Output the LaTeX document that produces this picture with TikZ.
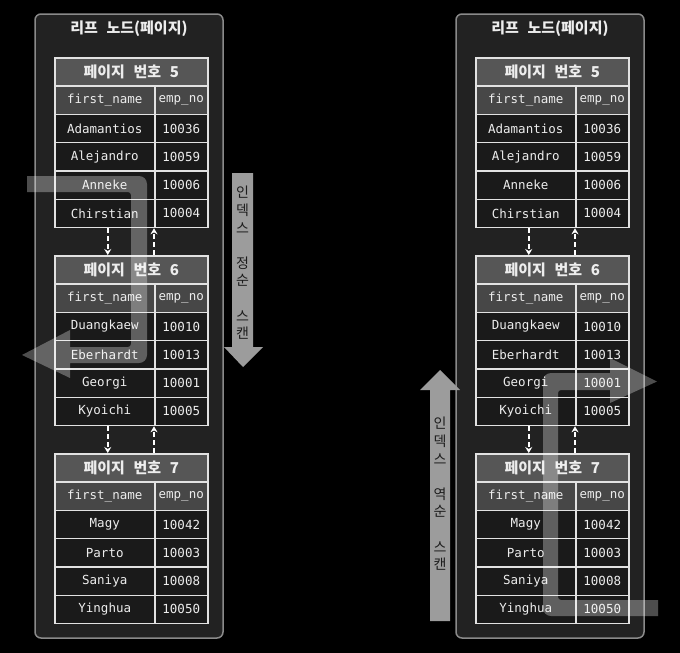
\documentclass[tikz,border=0pt]{standalone}
\usepackage{fontspec}
\setmonofont{DejaVu Sans Mono}
\newfontfamily\kor{Noto Sans CJK KR}[WordSpace=2.5]
\usetikzlibrary{arrows.meta}

\definecolor{panelfill}{HTML}{222222}
\definecolor{panelline}{HTML}{8A8A8A}
\definecolor{tabline}{HTML}{E2E2E2}
\definecolor{headgray}{HTML}{565656}
\definecolor{colgray}{HTML}{474747}
\definecolor{rowdark}{HTML}{1A1A1A}
\definecolor{txt}{HTML}{EDEDED}
\definecolor{scangray}{HTML}{9C9C9C}
\definecolor{scantext}{HTML}{1C1C1C}

\tikzset{
  panel/.style={fill=panelfill, draw=panelline, line width=1.5pt, rounded corners=6pt},
  paneltitle/.style={text=txt, font=\kor\bfseries\fontsize{15}{17}\selectfont},
  cell/.style={draw=tabline, line width=1.5pt, minimum height=28.3pt, inner sep=0pt,
    anchor=north west, text=txt, font=\ttfamily\fontsize{12.5}{14}\selectfont},
  namecell/.style={cell, minimum width=100pt},
  numcell/.style={cell, minimum width=53pt},
  pagehead/.style={cell, minimum width=153pt, fill=headgray, font=\kor\bfseries\fontsize{15}{17}\selectfont},
  colhead/.style={fill=colgray},
  datarow/.style={fill=rowdark},
  link/.style={draw=white, line width=1.5pt, dash pattern=on 5pt off 3pt, -{Stealth[length=6pt,width=7pt]}},
  scanlabel/.style={text=scantext, align=center, font=\kor\fontsize{14}{17.6}\selectfont},
  trail/.style={fill=white, fill opacity=0.3},
}

% one page of the leaf level: prefix, left, top, page number, rows
\newcommand{\pagetab}[5]{%
  \node[pagehead] (#1h) at (#2,#3) {페이지 번호 #4};
  \node[namecell,colhead] (#1c) at (#2,#3+28.3) {first\_name};
  \node[numcell,colhead] (#1cv) at (#2+100,#3+28.3) {emp\_no};
  \foreach \nm/\no [count=\i] in {#5} {
    \node[namecell,datarow] (#1n\i) at (#2,#3+28.3+28.3*\i) {\nm};
    \node[numcell,datarow] (#1v\i) at (#2+100,#3+28.3+28.3*\i) {\no};
  }
}

\begin{document}
\begin{tikzpicture}[x=1pt,y=-1pt]
  \useasboundingbox (0,0) rectangle (680,653);
  \fill[black] (0,0) rectangle (680,653);

  % the two leaf panels
  \draw[panel] (35,14) rectangle (223,638);
  \draw[panel] (456,14) rectangle (644,638);
  \node[paneltitle] (ltitle) at (129,29) {리프 노드(페이지)};
  \node[paneltitle] (rtitle) at (550,29) {리프 노드(페이지)};

  \foreach \s/\x in {l/54,r/475} {
    \pagetab{\s5}{\x}{57}{5}{Adamantios/10036,Alejandro/10059,Anneke/10006,Chirstian/10004}
    \pagetab{\s6}{\x}{255}{6}{Duangkaew/10010,Eberhardt/10013,Georgi/10001,Kyoichi/10005}
    \pagetab{\s7}{\x}{453}{7}{Magy/10042,Parto/10003,Saniya/10008,Yinghua/10050}
  }

  % next / prev page links
  \foreach \s in {l,r} {
    \foreach \pa/\pb in {5/6,6/7} {
      \draw[link] ([xshift=3pt]\s\pa n4.south) -- ([xshift=3pt]\s\pa n4.south |- \s\pb h.north);
      \draw[link] (\s\pb h.north -| \s\pa v4.west) -- (\s\pa v4.south west);
    }
  }

  % scan direction arrows
  \fill[scangray] (232,173) -- (253,173) -- (253,347) -- (263,347) -- (243,367) -- (224,347) -- (232,347) -- cycle;
  \node[scanlabel] (lscan) at (242.5,263) {인\\덱\\스\\~\\정\\순\\~\\스\\캔};
  \fill[scangray] (430,621) -- (450,621) -- (450,390) -- (460,390) -- (440,370) -- (420,390) -- (430,390) -- cycle;
  \node[scanlabel] (rscan) at (440,494) {인\\덱\\스\\~\\역\\순\\~\\스\\캔};

  % read paths
  \fill[trail] (27,176) [rounded corners=8pt] -- (147,176) -- (147,363) [sharp corners] -- (70,363) -- (70,378)
    -- (22,355) -- (70,330) -- (70,347) [rounded corners=3pt] -- (131,347) -- (131,192) [sharp corners] -- (27,192) -- cycle;
  \fill[trail] (658,600) [rounded corners=3pt] -- (558,600) -- (558,390) [sharp corners] -- (610,390) -- (610,403)
    -- (657,381.5) -- (610,358) -- (610,373) [rounded corners=8pt] -- (543,373) -- (543,616) [sharp corners] -- (658,616) -- cycle;
\end{tikzpicture}
\end{document}
